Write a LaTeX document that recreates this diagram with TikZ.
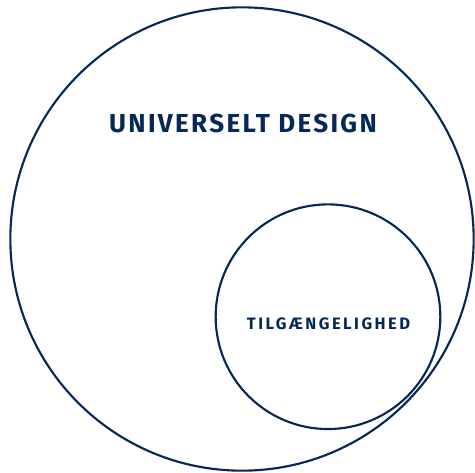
\documentclass[tikz,border=0pt]{standalone}
\usepackage{fontspec}
\setmainfont{Fira Sans}
\newfontfamily\titlefont[LetterSpace=9]{Fira Sans}
\newfontfamily\subtitlefont[LetterSpace=15]{Fira Sans}
\usepackage{tikz}
\usetikzlibrary{positioning}
\definecolor{navy}{RGB}{6,40,86}

\begin{document}
\begin{tikzpicture}[x=0.75pt,y=-0.75pt,
  ring/.style={draw=navy, line width=1.6pt, circle, inner sep=0pt},
  title/.style={text=navy, font=\titlefont\fontsize{19.5}{20}\selectfont\bfseries, inner sep=0pt},
  subtitle/.style={text=navy, font=\subtitlefont\fontsize{12.4}{13}\selectfont\bfseries, inner sep=0pt},
]
\useasboundingbox (0,0) rectangle (475,472);
\begin{scope}
  \node (design) [ring, minimum size=347.5pt] at (242,239) {};
  \node (access) [ring, minimum size=168.5pt] at (328,316.7) {};
\end{scope}

\node (designtext) [title] at (243,123) {UNIVERSELT DESIGN};
\node (accesstext) [subtitle] at (328.5,323.4) {TILGÆNGELIGHED};
\end{tikzpicture}
\end{document}
